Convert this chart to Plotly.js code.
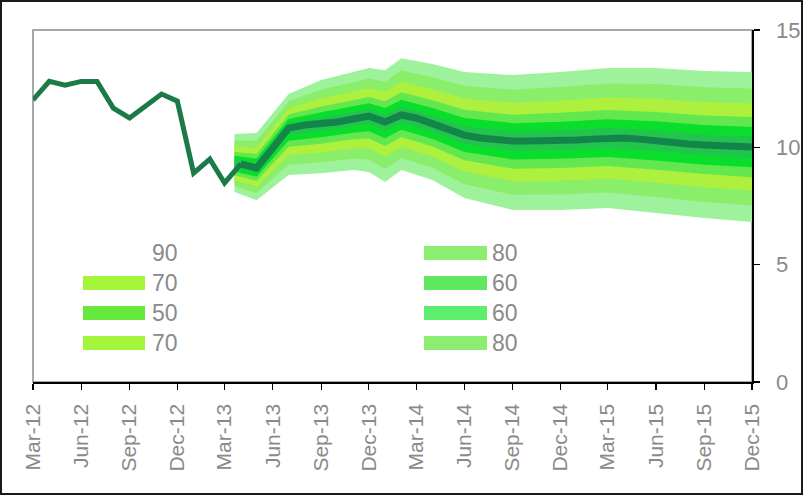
<!DOCTYPE html>
<html>
<head>
<meta charset="utf-8">
<script src="https://cdn.plot.ly/plotly-3.0.1.min.js"></script>
<style>
  html, body { margin: 0; padding: 0; background: #fff; }
  #wrap { position: relative; width: 803px; height: 495px; }
  #chart { width: 803px; height: 495px; }
  #frame { position: absolute; left: 0; top: 0; width: 803px; height: 495px; box-sizing: border-box; border: 2px solid #1a1a1a; pointer-events: none; }
</style>
</head>
<body>
<div id="wrap"><div id="chart"></div><div id="frame"></div></div>
<script>
// ---- Data ----
const histDates = ['2012-03-01','2012-04-01','2012-05-01','2012-06-01','2012-07-01','2012-08-01','2012-09-01','2012-10-01','2012-11-01','2012-12-01','2013-01-01','2013-02-01','2013-03-01','2013-04-01'];
const histValues = [12.02,12.81,12.65,12.81,12.81,11.67,11.25,11.76,12.27,11.97,8.90,9.50,8.48,9.29];

const forecastDates = ['2013-04-01','2013-05-01','2013-06-01','2013-07-01','2013-08-01','2013-09-01','2013-10-01','2013-11-01','2013-12-01',
  '2014-01-01','2014-02-01','2014-03-01','2014-04-01','2014-05-01','2014-06-01','2014-07-01','2014-08-01','2014-09-01','2014-10-01','2014-11-01','2014-12-01',
  '2015-01-01','2015-02-01','2015-03-01','2015-04-01','2015-05-01','2015-06-01','2015-07-01','2015-08-01','2015-09-01','2015-10-01','2015-11-01','2015-12-01'];
const forecastValues = [9.29,9.12,9.97,10.82,10.95,10.99,11.08,11.21,11.33,11.08,11.38,11.25,10.99,10.74,10.52,10.40,10.31,10.27,10.27,10.27,10.31,10.31,10.35,10.40,10.40,10.35,10.27,10.18,10.14,10.10,10.06,10.01,10.01];

const fanDates = ['2013-03-20','2013-05-01','2013-07-01','2013-09-01','2013-11-01','2013-12-01','2014-01-01','2014-02-01','2014-04-01','2014-06-01','2014-09-01','2014-12-01','2015-03-01','2015-06-01','2015-09-01','2015-12-01'];
const upper90 = [10.57,10.61,12.27,12.87,13.21,13.38,13.29,13.80,13.55,13.21,13.08,13.21,13.38,13.38,13.25,13.21];
const lower90 = [8.10,7.75,8.82,8.90,9.03,8.95,8.52,9.03,8.61,7.84,7.33,7.33,7.41,7.20,6.99,6.82];
const upper80 = [10.29,10.28,11.95,12.46,12.77,12.93,12.80,13.27,12.99,12.62,12.46,12.57,12.72,12.70,12.56,12.51];
const lower80 = [8.36,8.05,9.26,9.36,9.51,9.47,9.08,9.55,9.13,8.43,7.98,7.99,8.07,7.88,7.67,7.52];
const upper70 = [10.03,9.98,11.66,12.08,12.37,12.52,12.36,12.78,12.47,12.08,11.90,11.99,12.13,12.07,11.93,11.87];
const lower70 = [8.60,8.33,9.66,9.78,9.95,9.95,9.60,10.02,9.61,8.97,8.56,8.58,8.67,8.49,8.30,8.16];
const upper60 = [9.80,9.72,11.40,11.74,12.01,12.15,11.96,12.35,12.01,11.60,11.39,11.47,11.59,11.51,11.36,11.29];
const lower60 = [8.81,8.57,10.02,10.15,10.34,10.38,10.06,10.44,10.04,9.45,9.09,9.12,9.20,9.04,8.86,8.73];
const upper50 = [9.64,9.52,11.21,11.50,11.75,11.88,11.68,12.03,11.68,11.25,11.03,11.09,11.20,11.11,10.95,10.87];
const lower50 = [8.97,8.75,10.28,10.43,10.62,10.69,10.39,10.75,10.35,9.80,9.48,9.51,9.59,9.44,9.26,9.15];
const upper30 = [9.47,9.33,11.02,11.25,11.49,11.62,11.39,11.72,11.35,10.90,10.66,10.72,10.82,10.71,10.54,10.46];
const lower30 = [9.12,8.93,10.54,10.70,10.90,11.00,10.72,11.05,10.66,10.14,9.86,9.89,9.98,9.84,9.66,9.56];

const tickDates = ['2012-03-01','2012-06-01','2012-09-01','2012-12-01','2013-03-01','2013-06-01','2013-09-01','2013-12-01',
  '2014-03-01','2014-06-01','2014-09-01','2014-12-01','2015-03-01','2015-06-01','2015-09-01','2015-12-01'];
const tickLabels = ['Mar-12','Jun-12','Sep-12','Dec-12','Mar-13','Jun-13','Sep-13','Dec-13','Mar-14','Jun-14','Sep-14','Dec-14','Mar-15','Jun-15','Sep-15','Dec-15'];

const legendLeft = ['90','70','50','70'];
const legendRight = ['80','60','60','80'];

// ---- Styles ----
const bandColors = {b90:'#9ff29c', b80:'#8aee6a', b70:'#aef03e', b60:'#62e84e', b50:'#0ade2c', b30:'#22c44e'};
const legendLeftColors = [null,'#a2f53a','#66e83c','#a2f53a'];
const legendRightColors = ['#8cee70','#60e860','#5eee6e','#8cee70'];
const grey = '#8a8a8a';

function band(up, lo, color) {
  return {
    x: fanDates.concat(fanDates.slice().reverse()),
    y: up.concat(lo.slice().reverse()),
    type: 'scatter', mode: 'lines', fill: 'toself', fillcolor: color,
    line: {width: 0, color: color}, hoverinfo: 'skip', showlegend: false
  };
}

const traces = [
  band(upper90, lower90, bandColors.b90),
  band(upper80, lower80, bandColors.b80),
  band(upper70, lower70, bandColors.b70),
  band(upper60, lower60, bandColors.b60),
  band(upper50, lower50, bandColors.b50),
  band(upper30, lower30, bandColors.b30),
  {x: forecastDates, y: forecastValues, type: 'scatter', mode: 'lines', line: {color: '#13854a', width: 7}, showlegend: false},
  {x: histDates, y: histValues, type: 'scatter', mode: 'lines', line: {color: '#1b7a47', width: 5}, showlegend: false}
];

// legend drawn with shapes + annotations
const L = 33, R = 752, T = 30, B = 382;
const px = v => (v - L) / (R - L);
const py = v => (B - v) / (B - T);
const rowY = [253, 283, 313, 343];
const shapes = [
  {type: 'rect', xref: 'paper', yref: 'paper', x0: 0, x1: 1, y0: 0, y1: 1, line: {color: '#8c8c8c', width: 1.5}, layer: 'below'}
];
const annotations = [];
rowY.forEach((yy, i) => {
  if (legendLeftColors[i]) {
    shapes.push({type: 'rect', xref: 'paper', yref: 'paper', x0: px(83), x1: px(145), y0: py(yy + 7), y1: py(yy - 7), fillcolor: legendLeftColors[i], line: {width: 0}});
  }
  shapes.push({type: 'rect', xref: 'paper', yref: 'paper', x0: px(424), x1: px(487), y0: py(yy + 7), y1: py(yy - 7), fillcolor: legendRightColors[i], line: {width: 0}});
  annotations.push({xref: 'paper', yref: 'paper', x: px(150), y: py(yy), text: legendLeft[i], showarrow: false, xanchor: 'left', yanchor: 'middle', font: {size: 23, color: grey, family: 'Liberation Sans, Arial, sans-serif'}});
  annotations.push({xref: 'paper', yref: 'paper', x: px(490), y: py(yy), text: legendRight[i], showarrow: false, xanchor: 'left', yanchor: 'middle', font: {size: 23, color: grey, family: 'Liberation Sans, Arial, sans-serif'}});
});

const layout = {
  width: 803, height: 495,
  margin: {l: L, r: 803 - R, t: T, b: 495 - B, pad: 0},
  paper_bgcolor: '#ffffff', plot_bgcolor: '#ffffff',
  showlegend: false,
  xaxis: {
    type: 'date', range: ['2012-03-01', '2015-12-01'],
    tickmode: 'array', tickvals: tickDates, ticktext: tickLabels,
    tickangle: -90, ticks: 'outside', ticklen: 6, tickcolor: '#000', tickwidth: 1.2,
    showline: true, linecolor: '#000', linewidth: 1.5, showgrid: false, zeroline: false,
    tickfont: {size: 21, color: grey, family: 'Liberation Sans, Arial, sans-serif'},
    ticklabelstandoff: 6
  },
  yaxis: {
    side: 'right', range: [0, 15], tickmode: 'array', tickvals: [0, 5, 10, 15],
    ticks: 'outside', ticklen: 6, tickcolor: '#000', tickwidth: 1.2,
    showline: true, linecolor: '#000', linewidth: 1.5, showgrid: false, zeroline: false,
    tickfont: {size: 22, color: grey, family: 'Liberation Sans, Arial, sans-serif'},
    ticklabelstandoff: 12
  },
  shapes: shapes,
  annotations: annotations
};

Plotly.newPlot('chart', traces, layout, {staticPlot: true, displayModeBar: false});
</script>
</body>
</html>
